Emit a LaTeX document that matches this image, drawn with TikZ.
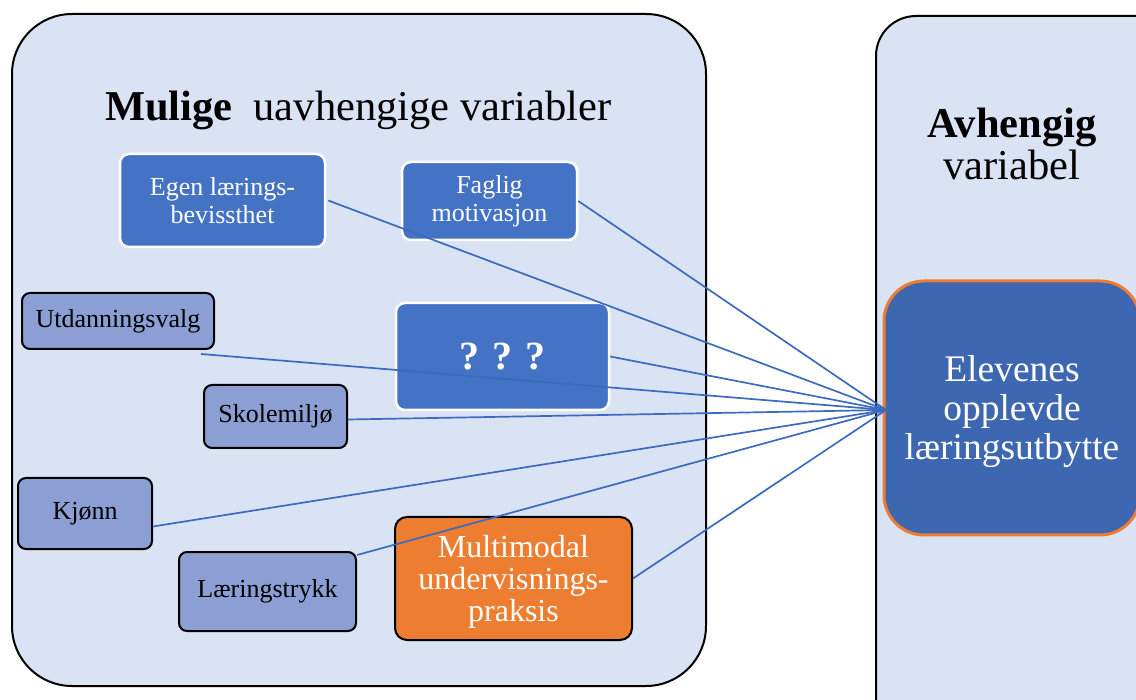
\documentclass[tikz,border=0pt]{standalone}
\usepackage{fontspec}
\setmainfont{Liberation Serif}
\definecolor{panel}{HTML}{DAE3F3}
\definecolor{accblue}{HTML}{4472C4}
\definecolor{linkblue}{HTML}{3C6AC0}
\definecolor{lavender}{HTML}{8B9FD4}
\definecolor{deepblue}{HTML}{3E67B1}
\definecolor{accorange}{HTML}{ED7D31}
\tikzset{
  panelbox/.style={draw=black, line width=2pt, fill=panel, rounded corners=#1},
  bluebox/.style={draw=white, line width=2.5pt, fill=accblue, rounded corners=9pt, text=white, align=center, inner sep=0pt, font=\fontsize{26}{28}\selectfont},
  lavbox/.style={draw=black, line width=2pt, fill=lavender, rounded corners=8pt, text=black, align=center, inner sep=0pt, font=\fontsize{26}{28}\selectfont},
  orangebox/.style={draw=black, line width=2pt, fill=accorange, rounded corners=12pt, inner sep=0pt},
  link/.style={draw=linkblue, line width=1.7pt},
}
\begin{document}
\begin{tikzpicture}[x=1pt,y=-1pt]
\useasboundingbox (0,0) rectangle (1136,700);
\begin{scope}
\clip (0,0) rectangle (1136,700);
% panels
\draw[panelbox=60pt] (12,14) rectangle (706,686);
\draw[panelbox=40pt] (876,16) rectangle (1200,760);
\node[anchor=west, inner sep=0pt, font=\fontsize{42.5}{44}\selectfont] (title) at (105,110) {\textbf{Mulige}\hspace{21pt}uavhengige variabler};
\node[align=center, font=\fontsize{42.5}{42}\selectfont] (dtitle) at (1012,144) {\textbf{Avhengig}\\variabel};
% target
\node[draw=accorange, line width=3pt, fill=deepblue, rounded corners=40pt, minimum width=256pt, minimum height=254pt, inner sep=0pt] (dep) at (1012,408) {};
\node[text=white, align=center, font=\fontsize{37.5}{39}\selectfont] (deptext) at (1012,412) {Elevenes\\opplevde\\læringsutbytte};
\coordinate (hub) at (886,410);
% boxes
\node[bluebox, minimum width=205pt, minimum height=93pt] (egen) at (222.5,200.5) {Egen lærings-\\bevissthet};
\node[bluebox, minimum width=175pt, minimum height=78pt] (faglig) at (489.5,201) {Faglig\\motivasjon};
\node[bluebox, minimum width=213pt, minimum height=107pt, font=\bfseries\fontsize{40}{42}\selectfont] (qqq) at (502.5,356.5) {? ? ?};
\node[lavbox, minimum width=192pt, minimum height=56pt] (utd) at (118,321) {Utdanningsvalg};
\node[lavbox, minimum width=143pt, minimum height=63pt] (skole) at (275.5,416.5) {Skolemiljø};
\node[lavbox, minimum width=134pt, minimum height=71pt] (kjonn) at (85,513.5) {Kjønn};
\node[lavbox, minimum width=177pt, minimum height=79pt] (laering) at (267.5,591.5) {Læringstrykk};
\node[orangebox, minimum width=237pt, minimum height=123pt] (multi) at (513.5,578.5) {};
\node[text=white, align=center, font=\fontsize{32}{32}\selectfont] (multitext) at (513.5,582) {Multimodal\\undervisnings-\\praksis};
% links
\draw[link] ([xshift=2pt]egen.east) -- (hub);
\draw[link] (faglig.east) -- (hub);
\draw[link] ([xshift=-14pt,yshift=-4pt]utd.south east) -- (hub);
\draw[link] (qqq.east) -- (hub);
\draw[link] ([yshift=-3pt]skole.east) -- (hub);
\draw[link] ([yshift=-13pt]kjonn.east) -- (hub);
\draw[link] ([yshift=-4pt]laering.north east) -- (hub);
\draw[link] (multi.east) -- (hub);
\end{scope}
\end{tikzpicture}
\end{document}
